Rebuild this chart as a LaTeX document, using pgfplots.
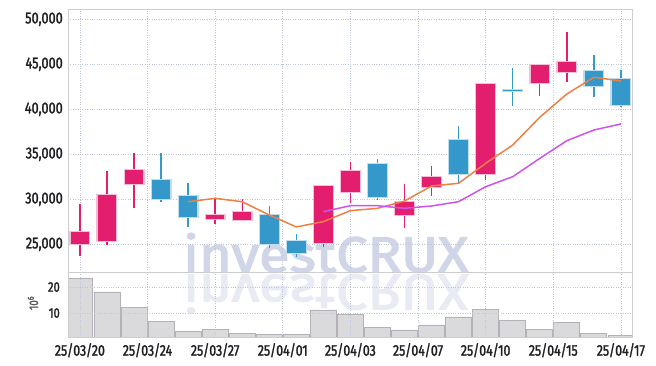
\documentclass[border=0pt]{standalone}
\usepackage{pgfplots}
\usepackage{pgfplotstable}
\pgfplotsset{compat=1.18}
\usepackage{fontspec}
\setmainfont{Fira Sans}[FakeStretch=0.8, FakeBold=1.6]
\newfontfamily\wmfont{Fira Sans}[FakeBold=2.5]

\definecolor{upc}{RGB}{228,30,110}
\definecolor{dnc}{RGB}{52,152,202}
\definecolor{upl}{RGB}{246,190,214}
\definecolor{dnl}{RGB}{190,222,240}
\definecolor{ma5}{RGB}{238,128,68}
\definecolor{ma10}{RGB}{204,84,236}
\definecolor{gridc}{RGB}{190,198,220}
\definecolor{framec}{RGB}{205,205,208}
\definecolor{volf}{RGB}{218,218,220}
\definecolor{vole}{RGB}{178,178,184}
\definecolor{wm}{RGB}{208,214,232}
\definecolor{wmr}{RGB}{232,235,244}
\definecolor{txt}{RGB}{30,30,34}

% up candles (close >= open)
\pgfplotstableread{
x o c l h
0 25050 26330 23700 29450
1 25330 30500 24960 33180
2 31670 33260 29000 35180
5 27810 28260 27220 30110
6 27730 28620 27730 30000
9 25180 31480 24670 31480
10 30850 33150 29560 34110
12 28290 29700 26780 31670
13 31400 32440 30400 33740
15 32810 42810 32140 42810
17 42890 44920 41480 44920
18 44180 45220 43030 48620
}\up

% down candles (close < open)
\pgfplotstableread{
x o c l h
3 32150 30030 29670 35180
4 30370 28070 26960 31850
7 28260 25040 24560 29260
8 25370 24070 23560 26110
11 33890 30220 29890 34510
14 36590 32810 31850 38180
16 42190 42030 40370 44620
19 44260 42620 41370 46070
20 43370 40510 40290 44370
}\dn

\pgfplotstableread{
x m
4 29730
5 30110
6 29730
7 28260
8 26930
9 27520
10 28740
11 29000
12 29810
13 31480
14 31780
15 34000
16 36030
17 39110
18 41700
19 43560
20 43150
}\mafive

\pgfplotstableread{
x m
9 28630
10 29290
11 29290
12 29000
13 29260
14 29740
15 31400
16 32510
17 34550
18 36510
19 37700
20 38370
}\maten

\pgfplotstableread{
x v
0 23.5
1 18.1
2 12.3
3 6.9
4 3.1
5 3.8
6 2.3
7 1.9
8 1.9
9 11.2
10 9.3
11 4.3
12 3.5
13 5.4
14 8.5
15 11.5
16 7.3
17 3.8
18 6.5
19 2.3
20 1.5
}\vol

\begin{document}
\begin{tikzpicture}
\useasboundingbox (0,0) rectangle (656bp,366bp);
% watermark
\node[anchor=base west, inner sep=0pt, text=wm] at (183bp,94bp)
  {\resizebox{285bp}{39bp}{\wmfont investCRUX}};
\node[anchor=north west, inner sep=0pt, text=wmr] at (183bp,92bp)
  {\scalebox{1}[-1]{\resizebox{285bp}{39bp}{\wmfont investCRUX}}};

\begin{axis}[
  at={(68bp,94bp)}, anchor=south west, scale only axis,
  width=564bp, height=263bp,
  xmin=-0.44, xmax=20.41, ymin=21925, ymax=51144,
  xtick={0,2.5,5,7.5,10,12.5,15,17.5,20}, xticklabels={},
  ytick={25000,30000,35000,40000,45000,50000},
  scaled y ticks=false,
  /pgf/number format/assume math mode=true,
  yticklabel style={/pgf/number format/1000 sep={,}, font=\fontsize{16}{16}\selectfont, text=txt, inner sep=0pt, xshift=-5bp},
  grid=major, grid style={gridc, dotted, line width=0.8bp},
  major tick length=0pt,
  axis line style={framec, line width=0.9bp},
]
% wicks
\addplot[forget plot, draw=none, mark=none, error bars/.cd, y dir=plus, y explicit, error mark=none,
  error bar style={draw=upc, line width=1.4bp, solid}]
  table[x=x, y=l, y error plus expr=\thisrow{h}-\thisrow{l}] {\up};
\addplot[forget plot, draw=none, mark=none, error bars/.cd, y dir=plus, y explicit, error mark=none,
  error bar style={draw=dnc, line width=1.4bp, solid}]
  table[x=x, y=l, y error plus expr=\thisrow{h}-\thisrow{l}] {\dn};
% body outlines
\addplot[forget plot, draw=none, mark=none, error bars/.cd, y dir=plus, y explicit, error mark=none,
  error bar style={draw=upl, line width=21bp, solid}]
  table[x=x, y expr=\thisrow{o}-120, y error plus expr=\thisrow{c}-\thisrow{o}+240] {\up};
\addplot[forget plot, draw=none, mark=none, error bars/.cd, y dir=plus, y explicit, error mark=none,
  error bar style={draw=dnl, line width=21bp, solid}]
  table[x=x, y expr=\thisrow{c}-120, y error plus expr=\thisrow{o}-\thisrow{c}+240] {\dn};
% bodies
\addplot[forget plot, draw=none, mark=none, error bars/.cd, y dir=plus, y explicit, error mark=none,
  error bar style={draw=upc, line width=18.5bp, solid}]
  table[x=x, y=o, y error plus expr=\thisrow{c}-\thisrow{o}] {\up};
\addplot[forget plot, draw=none, mark=none, error bars/.cd, y dir=plus, y explicit, error mark=none,
  error bar style={draw=dnc, line width=18.5bp, solid}]
  table[x=x, y=c, y error plus expr=\thisrow{o}-\thisrow{c}] {\dn};
% moving averages
\addplot[ma5, line width=1.5bp, mark=none] table[x=x, y=m] {\mafive};
\addplot[ma10, line width=1.5bp, mark=none] table[x=x, y=m] {\maten};
\end{axis}

\begin{axis}[
  at={(68bp,29bp)}, anchor=south west, scale only axis,
  width=564bp, height=65bp,
  xmin=-0.44, xmax=20.41, ymin=0.77, ymax=25.8,
  xtick={0,2.5,5,7.5,10,12.5,15,17.5,20},
  xticklabels={25/03/20,25/03/24,25/03/27,25/04/01,25/04/03,25/04/07,25/04/10,25/04/15,25/04/17},
  ytick={10,20},
  /pgf/number format/assume math mode=true,
  xticklabel style={font=\fontsize{15.5}{15.5}\selectfont, text=txt, inner sep=0pt, yshift=-6bp},
  yticklabel style={font=\fontsize{14}{14}\selectfont, text=txt, inner sep=0pt, xshift=-8bp},
  grid=major, grid style={gridc, dotted, line width=0.8bp},
  major tick length=0pt,
  axis on top,
  axis line style={framec, line width=0.9bp},
]
\addplot[ybar, bar width=0.96, bar shift=0pt, fill=volf, draw=vole, line width=0.8bp] table[x=x, y=v] {\vol};
\end{axis}

\node[rotate=90, inner sep=0pt, text=txt!75, font=\fontsize{12.5}{12.5}\selectfont] at (33bp,63bp) {10\textsuperscript{6}};
\end{tikzpicture}
\end{document}
